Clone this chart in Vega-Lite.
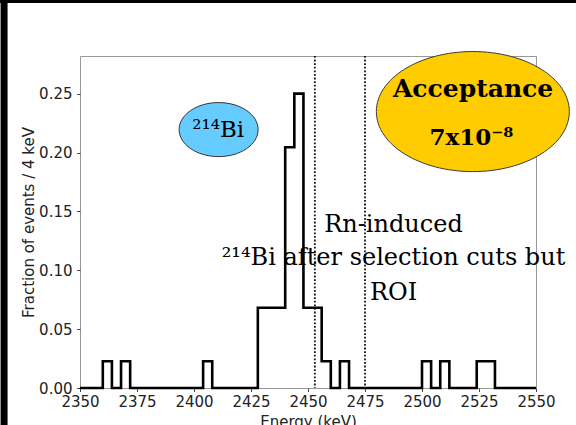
{
  "$schema": "https://vega.github.io/schema/vega-lite/v6.json",
  "width": 456,
  "height": 332,
  "autosize": {"type": "none"},
  "padding": {"left": 80, "top": 56, "right": 40, "bottom": 37},
  "background": "white",
  "data": {"values": [{}]},
  "config": {
    "view": {"stroke": "#999", "strokeWidth": 1},
    "axis": {
      "grid": false,
      "domain": false,
      "labelFont": "DejaVu Sans",
      "titleFont": "DejaVu Sans",
      "labelFontSize": 15,
      "titleFontSize": 15,
      "titleFontWeight": "normal",
      "labelColor": "#222",
      "titleColor": "#222",
      "tickColor": "#444",
      "tickSize": 3.5,
      "labelFlush": false,
      "labelOverlap": false
    }
  },
  "datasets": {
    "hist": [
      {"energy": 2350, "fraction": 0},
      {"energy": 2352, "fraction": 0},
      {"energy": 2356, "fraction": 0},
      {"energy": 2360, "fraction": 0.0227},
      {"energy": 2364, "fraction": 0},
      {"energy": 2368, "fraction": 0.0227},
      {"energy": 2372, "fraction": 0},
      {"energy": 2376, "fraction": 0},
      {"energy": 2380, "fraction": 0},
      {"energy": 2384, "fraction": 0},
      {"energy": 2388, "fraction": 0},
      {"energy": 2392, "fraction": 0},
      {"energy": 2396, "fraction": 0},
      {"energy": 2400, "fraction": 0},
      {"energy": 2404, "fraction": 0.0227},
      {"energy": 2408, "fraction": 0},
      {"energy": 2412, "fraction": 0},
      {"energy": 2416, "fraction": 0},
      {"energy": 2420, "fraction": 0},
      {"energy": 2424, "fraction": 0},
      {"energy": 2428, "fraction": 0.0682},
      {"energy": 2432, "fraction": 0.0682},
      {"energy": 2436, "fraction": 0.0682},
      {"energy": 2440, "fraction": 0.2045},
      {"energy": 2444, "fraction": 0.25},
      {"energy": 2448, "fraction": 0.0682},
      {"energy": 2452, "fraction": 0.0682},
      {"energy": 2456, "fraction": 0.0227},
      {"energy": 2460, "fraction": 0},
      {"energy": 2464, "fraction": 0.0227},
      {"energy": 2468, "fraction": 0},
      {"energy": 2472, "fraction": 0},
      {"energy": 2476, "fraction": 0},
      {"energy": 2480, "fraction": 0},
      {"energy": 2484, "fraction": 0},
      {"energy": 2488, "fraction": 0},
      {"energy": 2492, "fraction": 0},
      {"energy": 2496, "fraction": 0},
      {"energy": 2500, "fraction": 0.0227},
      {"energy": 2504, "fraction": 0},
      {"energy": 2508, "fraction": 0.0227},
      {"energy": 2512, "fraction": 0},
      {"energy": 2516, "fraction": 0},
      {"energy": 2520, "fraction": 0},
      {"energy": 2524, "fraction": 0.0227},
      {"energy": 2528, "fraction": 0.0227},
      {"energy": 2532, "fraction": 0},
      {"energy": 2536, "fraction": 0},
      {"energy": 2540, "fraction": 0},
      {"energy": 2544, "fraction": 0},
      {"energy": 2548, "fraction": 0},
      {"energy": 2550, "fraction": 0}
    ],
    "roi": [
      {"energy": 2453},
      {"energy": 2475}
    ],
    "notes": [
      {"energy": 2487.5, "fraction": 0.1329, "label": "Rn-induced"},
      {"energy": 2487.5, "fraction": 0.1047, "label": "²¹⁴Bi after selection cuts but"},
      {"energy": 2487.5, "fraction": 0.075, "label": "ROI"}
    ]
  },
  "layer": [
    {
      "data": {"name": "hist"},
      "mark": {"type": "line", "interpolate": "step-after", "color": "black", "strokeWidth": 2.6},
      "encoding": {
        "x": {
          "field": "energy",
          "type": "quantitative",
          "scale": {"domain": [2350, 2550], "nice": false, "zero": false},
          "axis": {
            "title": "Energy (keV)",
            "values": [2350, 2375, 2400, 2425, 2450, 2475, 2500, 2525, 2550],
            "format": "d",
            "labelPadding": 3,
            "titleX": 228,
            "titleY": 26,
            "titleBaseline": "top",
            "titleAlign": "center"
          }
        },
        "y": {
          "field": "fraction",
          "type": "quantitative",
          "scale": {"domain": [0, 0.282], "nice": false},
          "axis": {
            "title": "Fraction of events / 4 keV",
            "values": [0, 0.05, 0.1, 0.15, 0.2, 0.25],
            "format": ".2f",
            "labelPadding": 4.5,
            "titleX": -52,
            "titleY": 166,
            "titleAngle": 270,
            "titleAlign": "center",
            "titleBaseline": "middle"
          }
        }
      }
    },
    {
      "data": {"name": "roi"},
      "mark": {"type": "rule", "color": "#111", "strokeWidth": 1.8, "strokeDash": [1.8, 1.8]},
      "encoding": {
        "x": {"field": "energy", "type": "quantitative"}
      }
    },
    {
      "mark": {
        "type": "point",
        "shape": "M-1,0C-1,-0.378,-0.552,-0.684,0,-0.684C0.552,-0.684,1,-0.378,1,0C1,0.378,0.552,0.684,0,0.684C-0.552,0.684,-1,0.378,-1,0Z",
        "filled": true,
        "fill": "#66ccff",
        "stroke": "#333",
        "strokeWidth": 1,
        "opacity": 1,
        "size": 6241
      },
      "encoding": {
        "x": {"datum": 2410.8, "type": "quantitative"},
        "y": {"datum": 0.2195, "type": "quantitative"}
      }
    },
    {
      "mark": {
        "type": "point",
        "shape": "M-1,0C-1,-0.343,-0.552,-0.622,0,-0.622C0.552,-0.622,1,-0.343,1,0C1,0.343,0.552,0.622,0,0.622C-0.552,0.622,-1,0.343,-1,0Z",
        "filled": true,
        "fill": "#ffcc00",
        "stroke": "#3a3a3a",
        "strokeWidth": 1,
        "opacity": 1,
        "size": 37249
      },
      "encoding": {
        "x": {"datum": 2522.3, "type": "quantitative"},
        "y": {"datum": 0.2348, "type": "quantitative"}
      }
    },
    {
      "mark": {"type": "text", "font": "DejaVu Serif", "fontSize": 23, "align": "center", "baseline": "alphabetic", "color": "black"},
      "encoding": {
        "x": {"datum": 2410.6, "type": "quantitative"},
        "y": {"datum": 0.2136, "type": "quantitative"},
        "text": {"value": "²¹⁴Bi"}
      }
    },
    {
      "mark": {"type": "text", "font": "DejaVu Serif", "fontSize": 25, "fontWeight": "bold", "align": "center", "baseline": "alphabetic", "color": "black"},
      "encoding": {
        "x": {"datum": 2522.4, "type": "quantitative"},
        "y": {"datum": 0.247, "type": "quantitative"},
        "text": {"value": "Acceptance"}
      }
    },
    {
      "mark": {"type": "text", "font": "DejaVu Serif", "fontSize": 23, "fontWeight": "bold", "align": "center", "baseline": "alphabetic", "color": "black"},
      "encoding": {
        "x": {"datum": 2521.7, "type": "quantitative"},
        "y": {"datum": 0.2065, "type": "quantitative"},
        "text": {"value": "7x10⁻⁸"}
      }
    },
    {
      "data": {"name": "notes"},
      "mark": {"type": "text", "font": "DejaVu Serif", "fontSize": 24, "align": "center", "baseline": "alphabetic", "color": "black"},
      "encoding": {
        "x": {"field": "energy", "type": "quantitative"},
        "y": {"field": "fraction", "type": "quantitative"},
        "text": {"field": "label"}
      }
    },
    {
      "mark": {"type": "rule", "color": "black", "strokeWidth": 7},
      "encoding": {
        "x": {"datum": 2316.7, "type": "quantitative"},
        "y": {"datum": -0.05, "type": "quantitative"},
        "y2": {"datum": 0.35}
      }
    },
    {
      "mark": {"type": "rule", "color": "black", "strokeWidth": 3},
      "encoding": {
        "y": {"datum": 0.3283, "type": "quantitative"},
        "x": {"datum": 2300, "type": "quantitative"},
        "x2": {"datum": 2600}
      }
    }
  ]
}
